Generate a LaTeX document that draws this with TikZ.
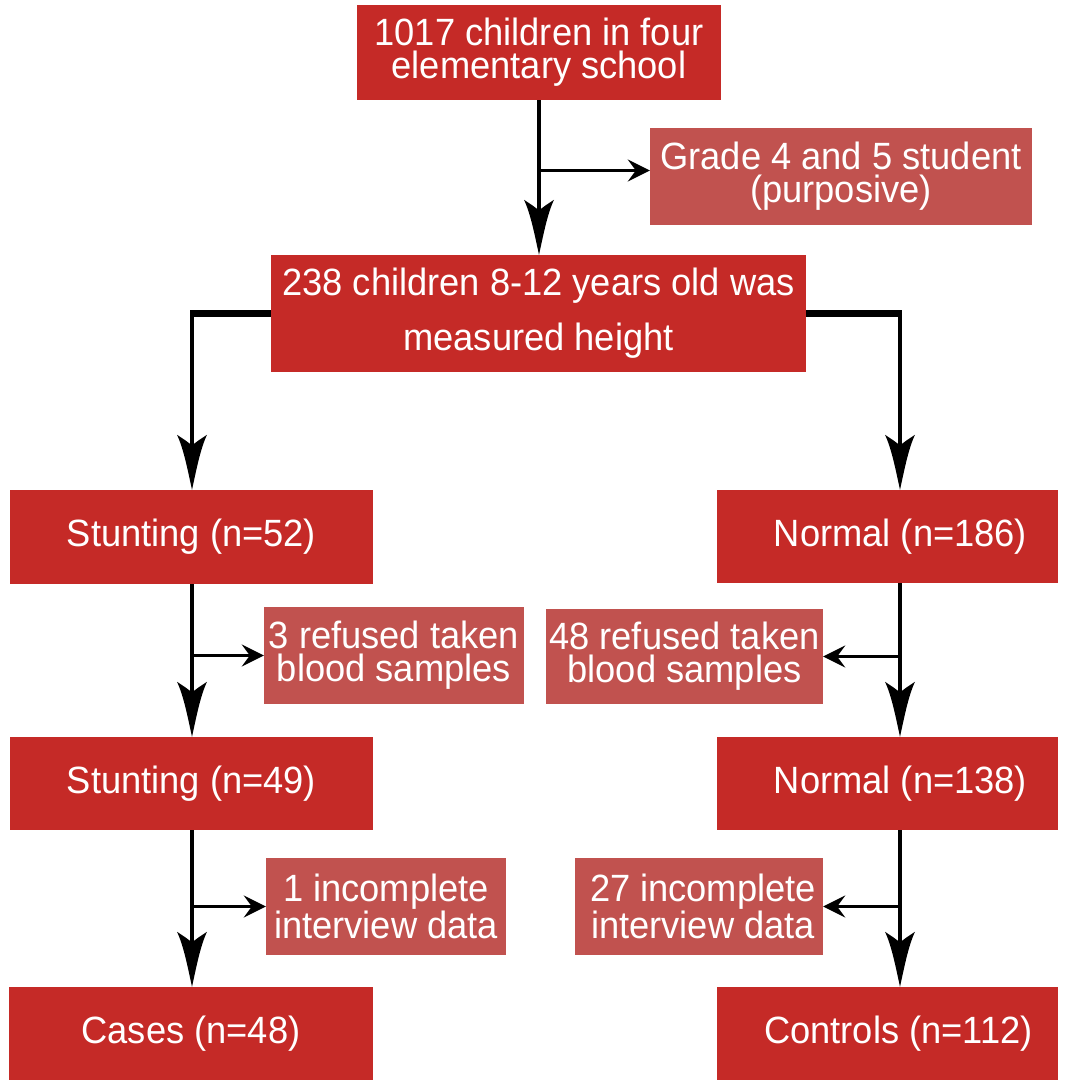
\documentclass[tikz,border=0pt]{standalone}
\usepackage{fontspec}
\setmainfont[FakeStretch=0.955]{Liberation Sans}
\usetikzlibrary{arrows.meta}
\definecolor{mainred}{HTML}{C52A27}
\definecolor{sidered}{HTML}{C1524F}
\pgfdeclarearrow{
  name=Spike,
  parameters={\the\pgfarrowlength,\the\pgfarrowwidth},
  setup code={
    \pgfarrowssettipend{0pt}
    \pgfarrowssetlineend{-0.6\pgfarrowlength}
    \pgfarrowsupperhullpoint{0pt}{0pt}
    \pgfarrowsupperhullpoint{-\pgfarrowlength}{0.5\pgfarrowwidth}
    \pgfarrowssavethe\pgfarrowlength
    \pgfarrowssavethe\pgfarrowwidth
  },
  drawing code={
    \pgfpathmoveto{\pgfqpoint{0pt}{0pt}}
    \pgfpathcurveto{\pgfqpoint{-0.35\pgfarrowlength}{0.14\pgfarrowwidth}}{\pgfqpoint{-0.75\pgfarrowlength}{0.28\pgfarrowwidth}}{\pgfqpoint{-\pgfarrowlength}{0.5\pgfarrowwidth}}
    \pgfpathcurveto{\pgfqpoint{-0.92\pgfarrowlength}{0.28\pgfarrowwidth}}{\pgfqpoint{-0.86\pgfarrowlength}{0.1\pgfarrowwidth}}{\pgfqpoint{-0.8\pgfarrowlength}{0pt}}
    \pgfpathcurveto{\pgfqpoint{-0.86\pgfarrowlength}{-0.1\pgfarrowwidth}}{\pgfqpoint{-0.92\pgfarrowlength}{-0.28\pgfarrowwidth}}{\pgfqpoint{-\pgfarrowlength}{-0.5\pgfarrowwidth}}
    \pgfpathcurveto{\pgfqpoint{-0.75\pgfarrowlength}{-0.28\pgfarrowwidth}}{\pgfqpoint{-0.35\pgfarrowlength}{-0.14\pgfarrowwidth}}{\pgfqpoint{0pt}{0pt}}
    \pgfpathclose
    \pgfusepathqfill
  },
  defaults={length=52pt,width=28pt}
}
\tikzset{
  box/.style={fill=mainred, text=white, inner sep=0pt, align=center,
    font=\fontsize{38}{33}\selectfont},
  sidebox/.style={fill=sidered, text=white, inner sep=0pt, align=center,
    font=\fontsize{38}{33}\selectfont},
  mainarrow/.style={line width=4pt, -{Spike[length=55pt,width=30pt]}},
  sidearrow/.style={line width=3pt, -{Stealth[length=22pt,width=22pt,inset=8pt]}},
  thickline/.style={line width=7pt},
}
\begin{document}
\begin{tikzpicture}[x=1pt,y=-1pt]
\useasboundingbox (0,0) rectangle (1072,1080);
\node[box, minimum width=364pt, minimum height=95pt] (top) at (539,52.5) {1017 children in four\\elementary school};
\node[sidebox, minimum width=382pt, minimum height=97pt] (grade) at (841,176.5) {Grade 4 and 5 student\\(purposive)};
\node[box, minimum width=535pt, minimum height=117pt, font=\fontsize{38}{55}\selectfont] (m238) at (538.5,313.5) {238 children 8-12 years old was\\measured height};
\node[box, minimum width=363pt, minimum height=94pt] (s52) at (191.5,537) {Stunting (n=52)};
\node[box, minimum width=341pt, minimum height=93pt] (n186) at (887.5,536.5) {\hspace*{26pt}Normal (n=186)};
\node[sidebox, minimum width=260pt, minimum height=97pt] (r3) at (394,655.5) {3 refused taken\\blood samples};
\node[sidebox, minimum width=277pt, minimum height=95pt] (r48) at (684.5,656.5) {48 refused taken\\blood samples};
\node[box, minimum width=363pt, minimum height=93pt] (s49) at (191.5,783.5) {Stunting (n=49)};
\node[box, minimum width=341pt, minimum height=93pt] (n138) at (887.5,783.5) {\hspace*{26pt}Normal (n=138)};
\node[sidebox, minimum width=240pt, minimum height=97pt] (i1) at (386,906.5) {1 incomplete\\interview data};
\node[sidebox, minimum width=248pt, minimum height=97pt] (i27) at (699,906.5) {\hspace*{8pt}27 incomplete\\\hspace*{8pt}interview data};
\node[box, minimum width=364pt, minimum height=93pt] (cases) at (191,1033.5) {Cases (n=48)};
\node[box, minimum width=341pt, minimum height=93pt] (controls) at (887.5,1033.5) {\hspace*{22pt}Controls (n=112)};

\coordinate (lx) at (192,313.5);
\coordinate (rx) at (900,313.5);

% top
\draw[mainarrow] (top.south) -- (top.south |- m238.north);
\draw[sidearrow] (top.south |- grade.west) ++(0,-6) -- ([yshift=6pt]grade.west);

% left branch
\draw[thickline] (m238.west) -- ([xshift=-2pt]lx);
\draw[mainarrow] (lx) -- (lx |- s52.north);
\draw[mainarrow] (lx |- s52.south) -- (lx |- s49.north);
\draw[sidearrow] (lx |- r3.west) -- (r3.west);
\draw[mainarrow] (lx |- s49.south) -- (lx |- cases.north);
\draw[sidearrow] (lx |- i1.west) -- (i1.west);

% right branch
\draw[thickline] (m238.east) -- ([xshift=2pt]rx);
\draw[mainarrow] (rx) -- (rx |- n186.north);
\draw[mainarrow] (rx |- n186.south) -- (rx |- n138.north);
\draw[sidearrow] (rx |- r48.east) -- (r48.east);
\draw[mainarrow] (rx |- n138.south) -- (rx |- controls.north);
\draw[sidearrow] (rx |- i27.east) -- (i27.east);
\end{tikzpicture}
\end{document}
